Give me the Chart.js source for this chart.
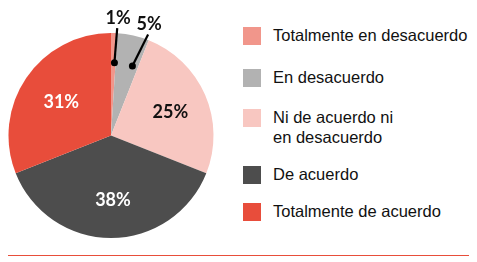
<!DOCTYPE html>
<html><head><meta charset="utf-8">
<script src="https://cdn.jsdelivr.net/npm/chart.js@4/dist/chart.umd.min.js"></script>
<style>
html,body{margin:0;padding:0;background:#fff;width:477px;height:262px;overflow:hidden;font-family:"Liberation Sans",Arial,sans-serif;}
#wrap{position:absolute;left:0;top:0;width:222px;height:262px;}
#legend{position:absolute;left:243px;top:0;}
.item{position:absolute;left:0;white-space:nowrap;}
.sw{position:absolute;left:0;width:18px;height:18px;}
.tx{position:absolute;left:30px;font-size:16.5px;line-height:19.5px;color:#111;}
#rule{position:absolute;left:8px;top:255px;width:461px;height:1px;background:#E84E3A;}
</style></head>
<body>
<div id="wrap"><canvas id="c"></canvas></div>
<div id="legend"></div>
<div id="rule"></div>
<script>
const categories = ["Totalmente en desacuerdo","En desacuerdo","Ni de acuerdo ni en desacuerdo","De acuerdo","Totalmente de acuerdo"];
const legendLines = [["Totalmente en desacuerdo"],["En desacuerdo"],["Ni de acuerdo ni","en desacuerdo"],["De acuerdo"],["Totalmente de acuerdo"]];
const values = [1,5,25,38,31];
const colors = ["#F1968B","#B2B2B2","#F8C7C1","#4D4D4D","#E84D3B"];
const labelColors = ["#111","#111","#111","#fff","#fff"];

// legend
const legendTops = [27,69,109,166,203];
const lg = document.getElementById('legend');
categories.forEach((c,i)=>{
  const it = document.createElement('div'); it.className='item'; it.style.top=legendTops[i]+'px';
  const sw = document.createElement('div'); sw.className='sw'; sw.style.background=colors[i];
  const tx = document.createElement('div'); tx.className='tx'; tx.style.top='-1px';
  tx.innerHTML = legendLines[i].join('<br>');
  it.appendChild(sw); it.appendChild(tx); lg.appendChild(it);
});

const labelPlugin = {
  id:'pieLabels',
  afterDatasetsDraw(chart){
    const ctx = chart.ctx;
    const meta = chart.getDatasetMeta(0);
    ctx.save();
    const fs = 18;
    ctx.font = 'bold '+fs+'px Lato, "DejaVu Sans", sans-serif';
    ctx.textAlign='center'; ctx.textBaseline='alphabetic';
    const capHalf = fs*0.36;
    meta.data.forEach((arc,i)=>{
      const p = arc.getProps(['x','y','startAngle','endAngle','outerRadius'],true);
      const span = p.endAngle - p.startAngle;
      const mid = (p.startAngle+p.endAngle)/2;
      const R = p.outerRadius;
      const txt = values[i]+'%';
      if (values[i] >= 10) {
        const r = R*0.61;
        ctx.fillStyle = labelColors[i];
        ctx.fillText(txt, p.x + Math.cos(mid)*r + 2, p.y + Math.sin(mid)*r + capHalf + 1);
      } else {
        const da = mid + 0.25*span, ea = mid + 0.42*span;
        const dx = p.x + Math.cos(da)*R*0.71, dy = p.y + Math.sin(da)*R*0.71;
        const ex = p.x + Math.cos(ea)*R*1.05, ey = p.y + Math.sin(ea)*R*1.05;
        ctx.strokeStyle='#000'; ctx.lineWidth=2.2;
        ctx.beginPath(); ctx.moveTo(dx,dy); ctx.lineTo(ex,ey); ctx.stroke();
        ctx.fillStyle='#000';
        ctx.beginPath(); ctx.arc(dx,dy,3.5,0,Math.PI*2); ctx.fill();
        ctx.fillStyle='#111';
        ctx.fillText(txt, ex+1, ey-11+capHalf);
      }
    });
    ctx.restore();
  }
};

new Chart(document.getElementById('c'), {
  type:'pie',
  data:{labels:categories, datasets:[{data:values, backgroundColor:colors, borderWidth:0}]},
  options:{
    responsive:true, maintainAspectRatio:false, animation:false,
    layout:{padding:{left:8,right:8,top:33,bottom:24}},
    plugins:{legend:{display:false}, tooltip:{enabled:false}}
  },
  plugins:[labelPlugin]
});
</script>
</body></html>
